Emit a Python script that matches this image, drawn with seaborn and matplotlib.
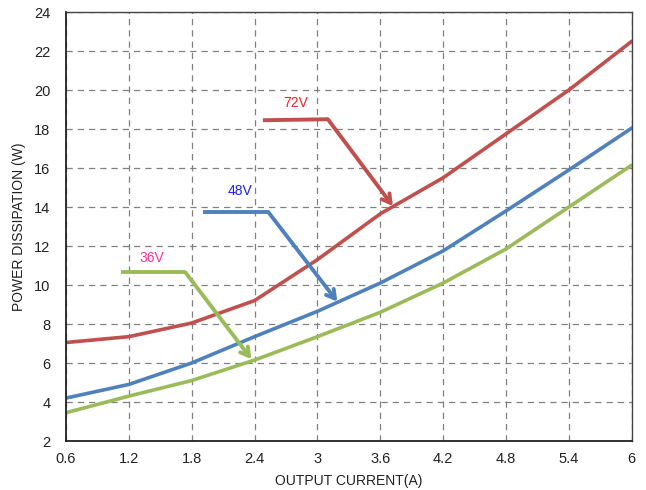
import numpy as np
import pandas as pd
import matplotlib
matplotlib.use("Agg")
import matplotlib.pyplot as plt
import seaborn as sns

# power dissipation vs output current for three input voltages

current = [0.6, 1.2, 1.8, 2.4, 3.0, 3.6, 4.2, 4.8, 5.4, 6.0]
p_72v = [7.05, 7.35, 8.05, 9.2, 11.3, 13.65, 15.5, 17.75, 20.0, 22.5]
p_48v = [4.2, 4.9, 6.0, 7.35, 8.65, 10.1, 11.75, 13.8, 15.9, 18.05]
p_36v = [3.45, 4.3, 5.1, 6.15, 7.35, 8.6, 10.1, 11.85, 14.0, 16.15]
voltages = ["72V", "48V", "36V"]
y_ticks = [2, 4, 6, 8, 10, 12, 14, 16, 18, 20, 22, 24]
x_ticks = [0.6, 1.2, 1.8, 2.4, 3, 3.6, 4.2, 4.8, 5.4, 6]
x_tick_labels = ["0.6", "1.2", "1.8", "2.4", "3", "3.6", "4.2", "4.8", "5.4", "6"]

line_colors = {"72V": "#C0504D", "48V": "#4F81BD", "36V": "#9BBB59"}
text_colors = {"72V": "#E8232B", "48V": "#1F1FF0", "36V": "#FF3399"}

# callout: label position, elbow start, elbow end, arrow tip
callouts = {
    "72V": [(2.79, 19.35), (2.48, 18.45), (3.10, 18.5), (3.72, 14.05)],
    "48V": [(2.26, 14.8), (1.91, 13.75), (2.53, 13.75), (3.19, 9.15)],
    "36V": [(1.42, 11.4), (1.13, 10.65), (1.74, 10.65), (2.37, 6.2)],
}

df = pd.DataFrame({
    "current": current * 3,
    "power": p_72v + p_48v + p_36v,
    "voltage": [v for v in voltages for _ in current],
})

sns.set_style("white")
plt.rcParams["font.family"] = ["Liberation Sans", "DejaVu Sans"]

fig = plt.figure(figsize=(6.46, 4.9), dpi=100)
ax = fig.add_axes([0.102, 0.1, 0.876, 0.8755])

sns.lineplot(data=df, x="current", y="power", hue="voltage", palette=line_colors,
             linewidth=2.6, legend=False, ax=ax)

for v, (lab, p0, p1, tip) in callouts.items():
    c = line_colors[v]
    ax.plot([p0[0], p1[0]], [p0[1], p1[1]], color=c, lw=2.8, solid_capstyle="butt")
    ax.annotate("", xy=tip, xytext=p1,
                arrowprops=dict(arrowstyle="->,head_length=0.6,head_width=0.35",
                                color=c, lw=2.8, shrinkA=0, shrinkB=0))
    ax.text(lab[0], lab[1], v, color=text_colors[v], fontsize=10,
            ha="center", va="center")

ax.set_xlim(0.6, 6)
ax.set_ylim(2, 24)
ax.set_xticks(x_ticks)
ax.set_xticklabels(x_tick_labels)
ax.set_yticks(y_ticks)
ax.tick_params(axis="x", labelsize=10.5, length=0, pad=8, colors="#222222")
ax.tick_params(axis="y", labelsize=10.5, length=0, pad=11, colors="#222222")
ax.grid(True, linestyle=(0, (5, 4)), color="#808080", linewidth=0.9)

for s in ["left", "bottom"]:
    ax.spines[s].set_color("#222222")
    ax.spines[s].set_linewidth(1.3)
for s in ["top", "right"]:
    ax.spines[s].set_color("#444444")
    ax.spines[s].set_linewidth(1.0)

ax.set_xlabel("OUTPUT CURRENT(A)", fontsize=10, color="#222222", labelpad=6)
ax.set_ylabel("POWER DISSIPATION (W)", fontsize=10, color="#222222", labelpad=6)

fig.savefig("out.png", dpi=100)
